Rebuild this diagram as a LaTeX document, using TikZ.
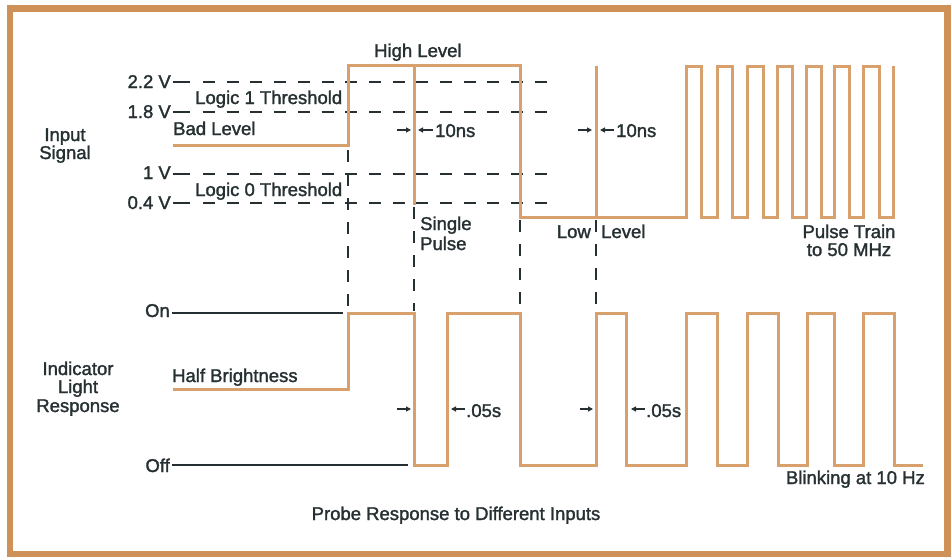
\documentclass[tikz,border=0pt]{standalone}
\usepackage{fontspec}
\setmainfont{Liberation Sans}[FakeBold=1.6]
\usetikzlibrary{arrows.meta}
\definecolor{frameor}{RGB}{206,146,88}
\definecolor{sigor}{RGB}{216,160,108}
\definecolor{ink}{RGB}{38,48,50}
\tikzset{
  lbl/.style={inner sep=0pt, font=\fontsize{18.5}{18}\selectfont, text=ink},
  sig/.style={draw=sigor, line width=3pt, line join=miter},
  ref/.style={draw=ink, line width=1.8pt},
  refdash/.style={draw=ink, line width=1.8pt, dash pattern=on 12pt off 11.7pt},
  vdash/.style={draw=ink, line width=1.8pt, dash pattern=on 12pt off 12pt},
  dim/.style={draw=ink, line width=1.5pt, -{Triangle[length=5pt,width=5pt]}}
}
\begin{document}
\begin{tikzpicture}[x=1pt,y=-1pt]
\useasboundingbox (0,0) rectangle (951,558);
\fill[white] (0,0) rectangle (951,558);
\draw[frameor, line width=6.5pt] (10,8.5) rectangle (947.5,554);

% ---- Input signal labels ----
\node[lbl,anchor=base] (in1) at (65,141) {Input};
\node[lbl,anchor=base] (in2) at (65,159) {Signal};
\node[lbl,anchor=base east] (v22) at (171,88) {2.2 V};
\node[lbl,anchor=base east] (v18) at (171,118) {1.8 V};
\node[lbl,anchor=base east] (v10) at (171,179) {1 V};
\node[lbl,anchor=base east] (v04) at (171,209) {0.4 V};
\node[lbl,anchor=base west] (l1t) at (195,104) {Logic 1 Threshold};
\node[lbl,anchor=base west] (l0t) at (195,196) {Logic 0 Threshold};
\node[lbl,anchor=base west] (bad) at (173,135) {Bad Level};
\node[lbl,anchor=base west] (high) at (374,57) {High Level};
\node[lbl,anchor=base west] (sp1) at (420,230) {Single};
\node[lbl,anchor=base west] (sp2) at (420,250) {Pulse};
\node[lbl,anchor=base east] (low1) at (591,238) {Low};
\node[lbl,anchor=base west] (low2) at (601,238) {Level};
\node[lbl,anchor=base] (pt1) at (849,238) {Pulse Train};
\node[lbl,anchor=base] (pt2) at (849,256) {to 50 MHz};

% reference level lines
\coordinate (e22) at (548,82);
\coordinate (e18) at (548,112);
\coordinate (e10) at (548,174);
\coordinate (e04) at (548,203);
\draw[ref] ([xshift=2pt]v22.east |- e22) -- (190,82);
\draw[refdash] (203,82) -- (e22);
\draw[ref] ([xshift=2pt]v18.east |- e18) -- (190,112);
\draw[refdash] (203,112) -- (e18);
\draw[ref] ([xshift=2pt]v10.east |- e10) -- (190,174);
\draw[refdash] (203,174) -- (e10);
\draw[ref] ([xshift=2pt]v04.east |- e04) -- (190,203);
\draw[refdash] (203,203) -- (e04);

% vertical dashed guides
\draw[vdash] (348,150) -- (348,311);
\draw[vdash] (414,207) -- (414,311);
\draw[vdash] (520,220) -- (520,311);
\draw[vdash] (596,220) -- (596,311);

% input waveform
\draw[sig] (173,145) -- (348,145) -- (348,65) -- (520,65) -- (520,217) -- (686,217)
  -- (686,66) -- (701,66) -- (701,217) -- (717,217) -- (717,66) -- (732,66) -- (732,217)
  -- (747,217) -- (747,66) -- (763,66) -- (763,217) -- (777,217) -- (777,66) -- (792,66)
  -- (792,217) -- (806,217) -- (806,66) -- (821,66) -- (821,217) -- (834,217) -- (834,66)
  -- (849,66) -- (849,217) -- (863,217) -- (863,66) -- (879,66) -- (879,217) -- (893,217)
  -- (893,66);
\draw[sig] (414,65) -- (414,205);
\draw[sig] (596,217) -- (596,66);

% 10 ns marks
\draw[dim] (397,130) -- (411,130);
\draw[dim] (433,130) -- (418,130);
\node[lbl,anchor=base west] (ns1) at (435,137) {10ns};
\draw[dim] (578,130) -- (592,130);
\draw[dim] (614,130) -- (600,130);
\node[lbl,anchor=base west] (ns2) at (616,137) {10ns};

% ---- Indicator light ----
\node[lbl,anchor=base] (ind1) at (78,375) {Indicator};
\node[lbl,anchor=base] (ind2) at (78,393) {Light};
\node[lbl,anchor=base] (ind3) at (78,412) {Response};
\node[lbl,anchor=base east] (on) at (170,317) {On};
\node[lbl,anchor=base east] (off) at (170,472) {Off};
\node[lbl,anchor=base west] (half) at (172,382) {Half Brightness};
\coordinate (onend) at (343,313);
\coordinate (offend) at (408,465);
\draw[ref] ([xshift=2pt]on.east |- onend) -- (onend);
\draw[ref] ([xshift=2pt]off.east |- offend) -- (offend);

\draw[sig] (173,389) -- (348,389) -- (348,313) -- (414,313) -- (414,465) -- (447,465)
  -- (447,313) -- (520,313) -- (520,465) -- (596,465) -- (596,313) -- (626,313)
  -- (626,465) -- (686,465) -- (686,313) -- (717,313) -- (717,465) -- (747,465)
  -- (747,313) -- (778,313) -- (778,465) -- (807,465) -- (807,313) -- (834,313)
  -- (834,465) -- (863,465) -- (863,313) -- (894,313) -- (894,465) -- (923,465);

% .05 s marks
\draw[dim] (397,409) -- (411,409);
\draw[dim] (465,409) -- (451,409);
\node[lbl,anchor=base west] (s1) at (466,417) {.05s};
\draw[dim] (580,409) -- (593,409);
\draw[dim] (645,409) -- (631,409);
\node[lbl,anchor=base west] (s2) at (646,417) {.05s};

\node[lbl,anchor=base east] (blink) at (925,484) {Blinking at 10 Hz};
\node[lbl,anchor=base] (cap) at (456,520) {Probe Response to Different Inputs};
\end{tikzpicture}
\end{document}
